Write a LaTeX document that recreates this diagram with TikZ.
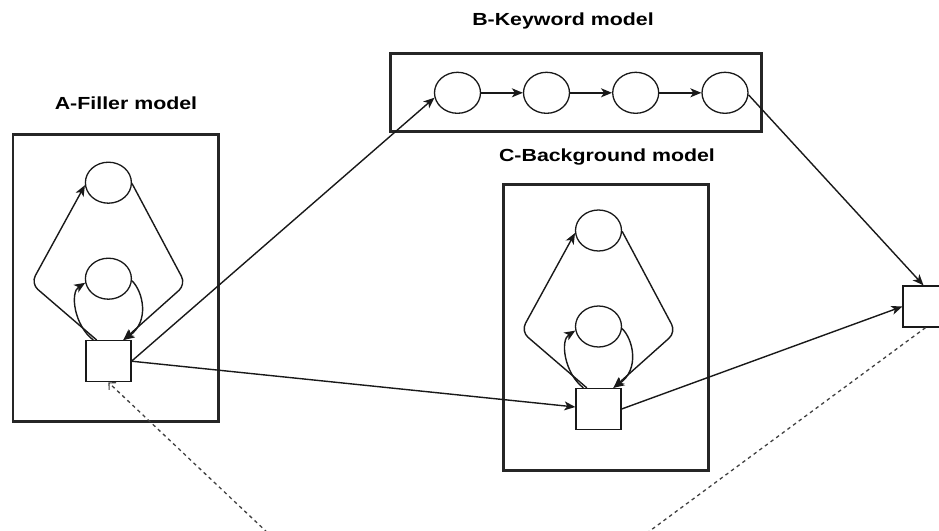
\documentclass[tikz,border=0pt]{standalone}
\usepackage{fontspec}
\newfontfamily\ttlfont{Liberation Sans}
\usetikzlibrary{shapes.geometric,arrows.meta,calc}
\tikzset{
  sqbox/.style={draw, line width=1.3pt, black!90, minimum width=45pt, minimum height=41pt, inner sep=0pt, fill=white},
  stbox/.style={draw, ellipse, line width=1.3pt, black!90, minimum width=46pt, minimum height=41pt, inner sep=0pt},
  frame/.style={draw, line width=2.8pt, black!85},
  conn/.style={line width=1.4pt, black!90, -{Stealth[length=11pt,width=9pt,inset=3pt]}},
  dashconn/.style={line width=1.3pt, dash pattern=on 3.5pt off 3.5pt, black!75},
  ttl/.style={font=\ttlfont\bfseries\fontsize{17.5}{20}\selectfont, inner sep=0pt, anchor=base}
}
\newcommand\loopmodel[3]{%
  \node[sqbox] (#1sq) at (#2,#3) {};
  \node[stbox] (#1c1) at ({#2},{#3-178.5}) {};
  \node[stbox] (#1c2) at ({#2},{#3-82.5}) {};
  \draw[conn, rounded corners=9pt] ($(#1sq.north)+(-11.7,0)$) -- ($(#1sq.north)+(-77.4,-56.5)$) -- (#1c1.186);
  \draw[conn, rounded corners=9pt] (#1c1.-2) -- ($(#1sq.north)+(77.3,-55.7)$) -- ($(#1sq.north)+(14.9,0)$);
  \draw[conn] ($(#1sq.north)+(-15.1,0)$) .. controls ($(#1sq.north)+(-34.4,-14.7)$) and ($(#1sq.north)+(-38.4,-47.7)$) .. (#1c2.190);
  \draw[conn] (#1c2.-5) .. controls ($(#1sq.north)+(34.6,-48.7)$) and ($(#1sq.north)+(41.6,-18.7)$) .. ($(#1sq.north)+(14.9,0)$);
}
\begin{document}
\begin{tikzpicture}[x=1pt,y=-1pt]
\path[use as bounding box] (0,0) rectangle (939,530);
\clip (0,0) rectangle (939,530);
% frames
\draw[frame] (13,134.5) rectangle (218.5,421.5);
\draw[frame] (390.5,53.5) rectangle (761.5,131.5);
\draw[frame] (503.5,184.5) rectangle (708.5,470.5);
% titles
\node[ttl] (ta) at (126,109) {\scalebox{1.22}[1]{A-Filler model}};
\node[ttl] (tb) at (563,25) {\scalebox{1.22}[1]{B-Keyword model}};
\node[ttl] (tc) at (607,161.5) {\scalebox{1.22}[1]{C-Background model}};
% filler and background models
\loopmodel{f}{108.4}{361.2}
\loopmodel{b}{598.5}{409}
% keyword model
\node[stbox] (k1) at (457.5,92.8) {};
\node[stbox] (k2) at (546.5,92.8) {};
\node[stbox] (k3) at (635.7,92.8) {};
\node[stbox] (k4) at (725,92.8) {};
\draw[conn] (k1) -- (k2);
\draw[conn] (k2) -- (k3);
\draw[conn] (k3) -- (k4);
% right square
\node[sqbox] (rsq) at (925.5,306.5) {};
% connectors
\draw[conn] (fsq.east) -- (k1.192);
\draw[conn] (fsq.east) -- ($(bsq.west)+(0,-2)$);
\draw[conn] (bsq.east) -- (rsq.west);
\draw[conn] (k4.-5) -- ($(rsq.north)+(-2,0)$);
\coordinate (low) at (434,690);
\draw[dashconn, -{Straight Barb[length=5pt,width=10pt,line width=1.1pt]}, line join=round] (rsq.south) -- (low) -- (fsq.south);
\end{tikzpicture}
\end{document}
